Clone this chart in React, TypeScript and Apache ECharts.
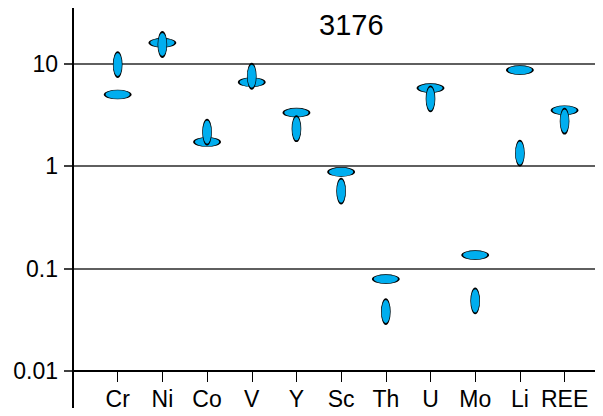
import React, { useEffect, useRef } from "react";
import * as echarts from "echarts";

// Element names along the x axis
const elements = ["Cr", "Ni", "Co", "V", "Y", "Sc", "Th", "U", "Mo", "Li", "REE"];
// Values drawn as flat (horizontal) ellipses
const flatValues = [5.0, 16.0, 1.72, 6.6, 3.33, 0.878, 0.079, 5.78, 0.1355, 8.67, 3.51];
// Values drawn as upright (vertical) ellipses
const uprightValues = [9.8, 15.4, 2.15, 7.55, 2.32, 0.571, 0.038, 4.54, 0.0484, 1.34, 2.75];
// Decade ticks of the log axis
const yTicks = [0.01, 0.1, 1, 10];

const ELLIPSE = "path://M1,0A1,1,0,1,1,-1,0A1,1,0,1,1,1,0Z";
const FONT = "'Liberation Sans', Arial, sans-serif";
const FILL = "#00aeef";

export default function App() {
  const ref = useRef<HTMLDivElement>(null);

  useEffect(() => {
    if (!ref.current) return;
    const chart = echarts.init(ref.current, undefined, { renderer: "svg" });
    const idx = elements.map((_, i) => i);

    chart.setOption({
      animation: false,
      title: {
        text: "3176",
        left: 314,
        top: 5,
        textStyle: { fontFamily: FONT, fontSize: 29, fontWeight: "normal", color: "#000" },
      },
      grid: { left: 73, right: 0, top: 6, bottom: 45, containLabel: false },
      xAxis: {
        type: "value",
        min: -1,
        max: 10.86,
        interval: 1,
        splitLine: { show: false },
        axisLine: { show: true, lineStyle: { color: "#000", width: 2 } },
        axisTick: { show: true, length: 11, customValues: idx, lineStyle: { color: "#000", width: 1 } },
        axisLabel: {
          customValues: idx,
          formatter: (v: number) => elements[Math.round(v)] ?? "",
          margin: 16,
          fontFamily: FONT,
          fontSize: 23,
          color: "#000",
        },
      },
      yAxis: {
        type: "log",
        logBase: 10,
        min: 0.01,
        max: 36.6,
        axisLine: { show: true, onZero: false, lineStyle: { color: "#000", width: 2 } },
        axisTick: { show: true, length: 9, customValues: yTicks, lineStyle: { color: "#000", width: 1.5 } },
        minorTick: { show: false },
        axisLabel: {
          customValues: yTicks,
          formatter: (v: number) => String(v),
          margin: 15,
          fontFamily: FONT,
          fontSize: 23,
          color: "#000",
        },
        splitLine: { show: true, lineStyle: { color: "#2a2a2a", width: 1.6 } },
      },
      graphic: [
        {
          type: "line",
          shape: { x1: 73, y1: 371, x2: 73, y2: 408 },
          style: { stroke: "#000", lineWidth: 2 },
        },
      ],
      series: [
        {
          type: "scatter",
          symbol: ELLIPSE,
          symbolSize: [26, 9],
          data: flatValues.map((v, i) => [i, v]),
          itemStyle: { color: FILL, borderColor: "#000", borderWidth: 1.1, opacity: 1 },
          z: 3,
        },
        {
          type: "scatter",
          symbol: ELLIPSE,
          symbolSize: [9, 25],
          data: uprightValues.map((v, i) => [i, v]),
          itemStyle: { color: FILL, borderColor: "#000", borderWidth: 1.1, opacity: 1 },
          z: 4,
        },
      ],
    });

    return () => chart.dispose();
  }, []);

  return <div ref={ref} style={{ width: 603, height: 416, margin: -8 }} />;
}
